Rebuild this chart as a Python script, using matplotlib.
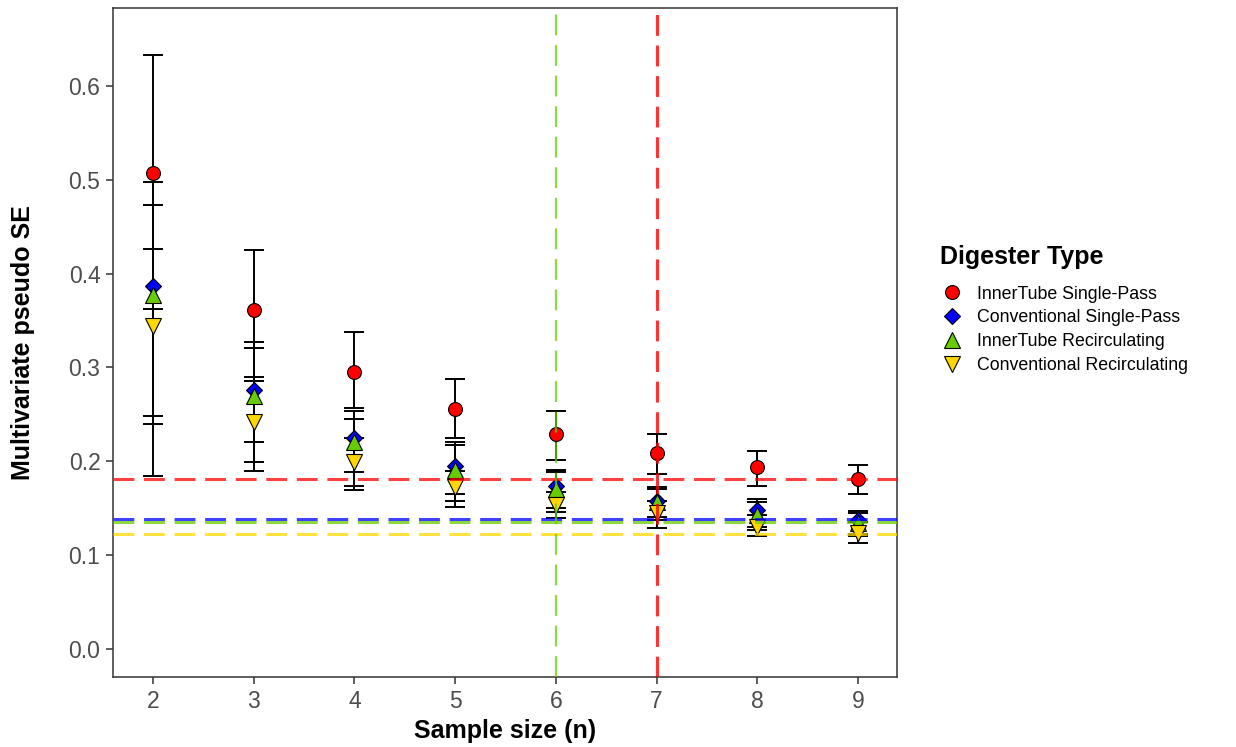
import matplotlib
matplotlib.use("Agg")
import matplotlib.pyplot as plt
import numpy as np

plt.rcParams['font.family'] = ['Liberation Sans', 'DejaVu Sans']

# Sample sizes
n = [2, 3, 4, 5, 6, 7, 8, 9]

# Multivariate pseudo SE (mean, lower and upper bounds) per digester type
red_mean = [0.507, 0.361, 0.295, 0.256, 0.229, 0.209, 0.194, 0.181]
red_lo = [0.362, 0.290, 0.257, 0.225, 0.201, 0.186, 0.174, 0.165]
red_hi = [0.633, 0.425, 0.338, 0.288, 0.254, 0.229, 0.211, 0.196]

blue_mean = [0.387, 0.276, 0.225, 0.195, 0.174, 0.158, 0.148, 0.137]
blue_lo = [0.248, 0.220, 0.188, 0.165, 0.150, 0.140, 0.130, 0.122]
blue_hi = [0.498, 0.327, 0.254, 0.220, 0.191, 0.172, 0.160, 0.147]

green_mean = [0.377, 0.270, 0.220, 0.191, 0.170, 0.156, 0.143, 0.134]
green_lo = [0.240, 0.199, 0.174, 0.158, 0.146, 0.137, 0.127, 0.120]
green_hi = [0.473, 0.321, 0.245, 0.217, 0.188, 0.170, 0.157, 0.145]

yellow_mean = [0.344, 0.242, 0.199, 0.172, 0.153, 0.145, 0.130, 0.124]
yellow_lo = [0.184, 0.190, 0.169, 0.151, 0.139, 0.129, 0.120, 0.113]
yellow_hi = [0.426, 0.285, 0.225, 0.190, 0.167, 0.158, 0.143, 0.135]

# Reference thresholds
h_thresholds = {'red': 0.1815, 'blue': 0.1386, 'green': 0.1350, 'yellow': 0.1226}
v_thresholds = {'green': 6, 'red': 7}

labels = ['InnerTube Single-Pass', 'Conventional Single-Pass',
          'InnerTube Recirculating', 'Conventional Recirculating']
colors = ['#FF0000', '#0000FF', '#66CD00', '#FFD700']
markers = ['o', 'D', '^', 'v']
msizes = [10, 8, 11.5, 11.5]

series = [(red_mean, red_lo, red_hi), (blue_mean, blue_lo, blue_hi),
          (green_mean, green_lo, green_hi), (yellow_mean, yellow_lo, yellow_hi)]

fig = plt.figure(figsize=(12.36, 7.47), dpi=100)
ax = fig.add_axes([0.0914, 0.0937, 0.6343, 0.8956])

# Error bars first
for mean, lo, hi in series:
    mean = np.array(mean)
    err = np.vstack([mean - np.array(lo), np.array(hi) - mean])
    ax.errorbar(n, mean, yerr=err, fmt='none', ecolor='black', elinewidth=1.4,
                capsize=7.5, capthick=1.4, zorder=2)

# Points
handles = []
for (mean, lo, hi), c, m, ms, lab in zip(series, colors, markers, msizes, labels):
    h, = ax.plot(n, mean, linestyle='none', marker=m, markersize=ms,
                 markerfacecolor=c, markeredgecolor='black', markeredgewidth=0.8,
                 label=lab, zorder=3)
    handles.append(h)


def dash_pattern(dash_pt, gap_pt, lw):
    return (dash_pt / lw, gap_pt / lw)


# Threshold lines on top
line_colors = {'red': '#FF0000', 'blue': '#0000FF', 'green': '#66CD00', 'yellow': '#FFD700'}
hlw = 2.2
for key in ['yellow', 'green', 'blue', 'red']:
    ax.axhline(h_thresholds[key], color=line_colors[key], alpha=0.75, lw=hlw,
               dashes=dash_pattern(15, 7, hlw), zorder=4)
ax.axvline(v_thresholds['green'], color=line_colors['green'], alpha=0.75, lw=1.6,
           dashes=dash_pattern(15, 7, 1.6), zorder=4)
ax.axvline(v_thresholds['red'], color=line_colors['red'], alpha=0.8, lw=hlw,
           dashes=dash_pattern(15, 7, hlw), zorder=4)

ax.set_xlim(1.603, 9.387)
ax.set_ylim(-0.030, 0.683)
ax.set_xticks(n)
ax.set_yticks([0.0, 0.1, 0.2, 0.3, 0.4, 0.5, 0.6])
ax.set_yticklabels(['0.0', '0.1', '0.2', '0.3', '0.4', '0.5', '0.6'])
ax.tick_params(axis='both', colors='#333333', labelcolor='#4D4D4D', labelsize=16.5,
               length=5, width=1.1, pad=4)
for sp in ax.spines.values():
    sp.set_color('#333333')
    sp.set_linewidth(1.1)

# Axis titles
ax_mid_x = 0.0914 + 0.6343 / 2
ax_mid_y = 0.0937 + 0.8956 / 2
fig.text(ax_mid_x, 1 - 731 / 747, 'Sample size (n)', fontsize=18, fontweight='bold',
         ha='center', va='center')
fig.text(23 / 1236, ax_mid_y, 'Multivariate pseudo SE', fontsize=18, fontweight='bold',
         ha='center', va='center', rotation=90)

leg = fig.legend(handles=handles, labels=labels, loc='upper left',
                 bbox_to_anchor=(940 / 1236, 1 - 245 / 747), frameon=False,
                 title='Digester Type', fontsize=12.8,
                 title_fontproperties={'weight': 'bold', 'size': 18},
                 handletextpad=0.7, labelspacing=0.38, handlelength=1.4,
                 borderaxespad=0, borderpad=0)
leg._legend_box.align = 'left'
leg._legend_box.sep = 12

fig.savefig('out.png', dpi=100)
